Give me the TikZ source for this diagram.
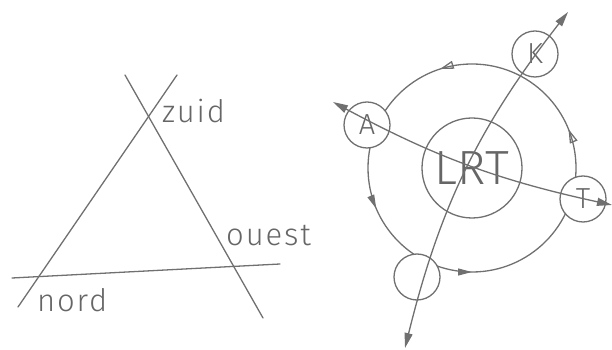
\documentclass[tikz,border=0pt]{standalone}
\usepackage{fontspec}
\setmainfont{Fira Sans Light}
\usetikzlibrary{arrows.meta,decorations.markings}
\definecolor{pencil}{HTML}{707070}
\definecolor{lead}{HTML}{666666}
\tikzset{
  stroke/.style={draw=pencil,line width=1.3pt,line cap=round},
  word/.style={text=lead,font=\fontsize{31}{34}\selectfont\addfontfeature{LetterSpace=6},inner sep=0pt,anchor=base west},
  hub/.style={circle,stroke,minimum size=100pt,inner sep=0pt,text=lead,font=\fontsize{48}{52}\selectfont},
  station/.style={circle,stroke,fill=white,minimum size=46pt,inner sep=0pt,text=lead,font=\fontsize{29}{32}\selectfont},
  track/.style={stroke,{Triangle[length=15pt,width=8pt]}-{Triangle[length=15pt,width=8pt]}},
  orbit/.style={stroke,postaction={decorate},decoration={markings,
    mark=at position 0.061 with {\arrow[pencil]{Triangle[open,length=14pt,width=8pt]}},
    mark=at position 0.300 with {\arrow[pencil]{Triangle[open,length=14pt,width=8pt]}},
    mark=at position 0.564 with {\arrow[pencil]{Triangle[length=14pt,width=7pt]}},
    mark=at position 0.750 with {\arrow[pencil]{Triangle[length=14pt,width=7pt]}}}},
}
\begin{document}
\begin{tikzpicture}[x=1pt,y=1pt]
  \useasboundingbox (0,0) rectangle (612,350);
  \coordinate (nw) at (18,43);
  \coordinate (ne) at (177,275);
  \coordinate (zw) at (125,275);
  \coordinate (ze) at (263,32);
  \coordinate (ow) at (12,72);
  \coordinate (oe) at (280,86);
  \draw[stroke] (nw) -- (ne);
  \draw[stroke] (zw) -- (ze);
  \draw[stroke] (ow) -- (oe);
  \node[word] (zuid) at (162,227) {zuid};
  \node[word] (ouest) at (226,104) {ouest};
  \node[word] (nord) at (37,38) {nord};

  \node[hub] (lrt) at (472,182) {LRT};
  \draw[orbit] (lrt.center) ++(0:104) arc[start angle=0,end angle=360,radius=104];
  \node[station] (k) at (535,296) {K};
  \node[station] (a) at (367,225) {A};
  \node[station] (b) at (417,73) {};
  \node[station] (t) at (583,151) {T};
  \coordinate (kout) at (568,338);
  \coordinate (bout) at (405,2);
  \coordinate (aout) at (333,248);
  \coordinate (tout) at (612,145);
  \draw[track] (bout) to[bend left=12] (kout);
  \draw[track] (aout) to[bend right=8] (tout);
\end{tikzpicture}
\end{document}
